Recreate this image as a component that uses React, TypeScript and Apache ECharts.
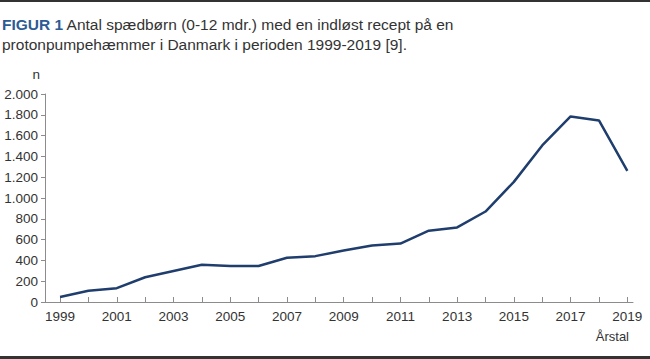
import React, { useEffect, useRef } from "react";
import * as echarts from "echarts";

const years = [1999, 2000, 2001, 2002, 2003, 2004, 2005, 2006, 2007, 2008, 2009, 2010, 2011, 2012, 2013, 2014, 2015, 2016, 2017, 2018, 2019];
const counts = [48, 108, 133, 238, 298, 358, 346, 346, 425, 441, 495, 543, 562, 686, 717, 870, 1155, 1505, 1784, 1746, 1260];
const yearLabels = [1999, 2001, 2003, 2005, 2007, 2009, 2011, 2013, 2015, 2017, 2019];
const titleLabel = "FIGUR 1";
const titleLine1 = " Antal spædbørn (0-12 mdr.) med en indløst recept på en";
const titleLine2 = "protonpumpehæmmer i Danmark i perioden 1999-2019 [9].";
const yName = "n";
const xName = "Årstal";

const FONT = "'Liberation Sans', Arial, Helvetica, sans-serif";

function fmt(v: number): string {
  return String(v).replace(/\B(?=(\d{3})+(?!\d))/g, ".");
}

export default function App() {
  const ref = useRef<HTMLDivElement>(null);
  useEffect(() => {
    if (!ref.current) return;
    const chart = echarts.init(ref.current, null, { renderer: "svg" });
    chart.setOption({
      animation: false,
      backgroundColor: "#ffffff",
      textStyle: { fontFamily: FONT },
      title: {
        left: 2,
        top: 14,
        padding: 0,
        text: `{b|${titleLabel}}{t|${titleLine1}}\n{t|${titleLine2}}`,
        textStyle: {
          fontWeight: "normal",
          rich: {
            b: { fontFamily: FONT, fontSize: 15.5, fontWeight: "bold", color: "#2d5b94", lineHeight: 20 },
            t: { fontFamily: FONT, fontSize: 15.5, fontWeight: "normal", color: "#333333", lineHeight: 20 },
          },
        },
      },
      graphic: [
        { type: "rect", left: 0, top: 0, shape: { width: 650, height: 2 }, style: { fill: "#333333" } },
        { type: "rect", left: 0, bottom: 0, shape: { width: 650, height: 3 }, style: { fill: "#333333" } },
        {
          type: "text",
          right: 21,
          top: 330,
          style: { text: xName, fontFamily: FONT, fontSize: 13, fill: "#333333" },
        },
      ],
      grid: { left: 45, right: 17, top: 94, bottom: 57, containLabel: false },
      xAxis: {
        type: "value",
        min: 1998.47,
        max: 2019.2,
        splitLine: { show: false },
        axisLine: { show: true, lineStyle: { color: "#8c8c8c", width: 1 } },
        axisTick: {
          show: true,
          inside: true,
          length: 5,
          customValues: years,
          lineStyle: { color: "#8c8c8c" },
        },
        axisLabel: {
          customValues: yearLabels,
          formatter: (v: number) => String(v),
          color: "#333333",
          fontSize: 13.5,
          fontFamily: FONT,
          margin: 7,
        },
      },
      yAxis: {
        type: "value",
        min: 0,
        max: 2000,
        interval: 200,
        name: yName,
        nameLocation: "end",
        nameGap: 13,
        nameTextStyle: { color: "#333333", fontSize: 13.5, fontFamily: FONT, align: "right", padding: [0, 5, 0, 0] },
        splitLine: { show: false },
        axisLine: { show: true, lineStyle: { color: "#8c8c8c", width: 1 } },
        axisTick: { show: true, length: 4, lineStyle: { color: "#8c8c8c" } },
        axisLabel: {
          formatter: (v: number) => fmt(v),
          color: "#333333",
          fontSize: 13.5,
          fontFamily: FONT,
          margin: 7,
        },
      },
      series: [
        {
          type: "line",
          data: years.map((y, i) => [y, counts[i]]),
          showSymbol: false,
          symbol: "none",
          lineStyle: { color: "#1f3e6d", width: 2.5 },
        },
      ],
    });
    return () => chart.dispose();
  }, []);
  return <div ref={ref} style={{ width: 650, height: 359, position: "absolute", left: 0, top: 0 }} />;
}
